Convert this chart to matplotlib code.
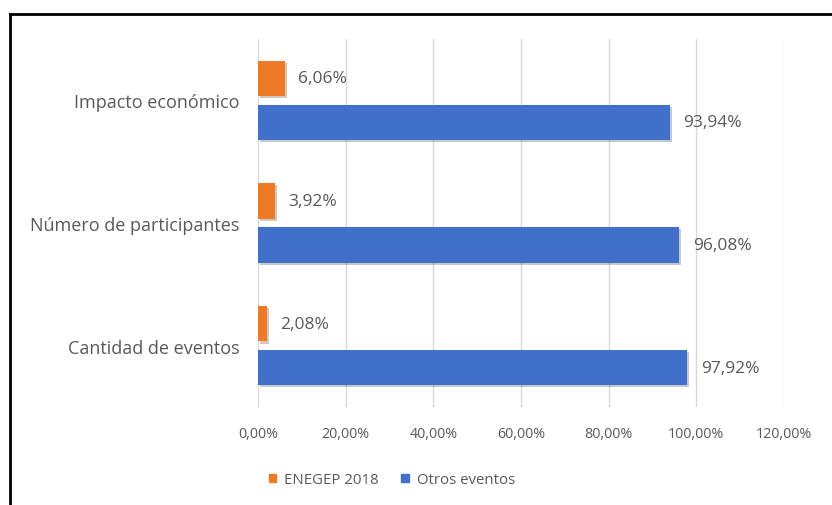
import matplotlib.pyplot as plt
import matplotlib.patheffects as pe
from matplotlib.lines import Line2D
from matplotlib.patches import Patch

# data, bottom to top
categories = ["Cantidad de eventos", "Número de participantes", "Impacto económico"]
enegep = [2.08, 3.92, 6.06]
otros = [97.92, 96.08, 93.94]
xticks = [0, 20, 40, 60, 80, 100, 120]

orange = "#EE7A26"
blue = "#4170CB"
gray = "#595959"

plt.rcParams['font.family'] = ['Open Sans', 'DejaVu Sans']

W, H = 832, 506
fig = plt.figure(figsize=(W / 100, H / 100), dpi=100)
ax = fig.add_axes([258 / W, 1 - 408 / H, (784 - 258) / W, (408 - 40) / H])

h = 0.29
off = 0.179
pos = list(range(len(categories)))
shadow = [pe.SimplePatchShadow(offset=(1.5, -1.5), alpha=0.25), pe.Normal()]

b1 = ax.barh([p + off for p in pos], enegep, height=h, color=orange, zorder=3)
b2 = ax.barh([p - off for p in pos], otros, height=h, color=blue, zorder=3)
for b in list(b1) + list(b2):
    b.set_path_effects(shadow)

def fmt(v):
    return ("%.2f%%" % v).replace(".", ",")

for p, v in zip(pos, enegep):
    ax.text(v + 3.0, p + off, fmt(v), va="center", ha="left", color=gray, fontsize=12.5)
for p, v in zip(pos, otros):
    ax.text(v + 3.1, p - off, fmt(v), va="center", ha="left", color=gray, fontsize=12.5)

ax.set_xlim(0, 120)
ax.set_ylim(-0.5, 2.5)
ax.set_xticks(xticks)
ax.set_xticklabels([fmt(t) for t in xticks], color=gray, fontsize=10.3)
ax.set_yticks(pos)
ax.set_yticklabels(categories, color=gray, fontsize=13)
ax.tick_params(axis="both", length=0)
ax.tick_params(axis="y", pad=13.5)
ax.tick_params(axis="x", pad=14)
ax.grid(axis="x", color="#D9D9D9", linewidth=1, zorder=0)
for s in ax.spines.values():
    s.set_visible(False)

handles = [Patch(color=orange), Patch(color=blue)]
fig.legend(handles, ["ENEGEP 2018", "Otros eventos"], loc="center",
           bbox_to_anchor=(392 / W, 1 - 481 / H), ncol=2, frameon=False,
           fontsize=10.8, handlelength=0.5, handleheight=0.5, handletextpad=0.55,
           columnspacing=1.5, labelcolor=gray)

# outer frame (only top and left visible)
fig.add_artist(Line2D([10 / W, 10 / W], [0, 1 - 15 / H], color="black", linewidth=2))
fig.add_artist(Line2D([10 / W, 1], [1 - 15 / H, 1 - 15 / H], color="black", linewidth=2))

fig.savefig("out.png", dpi=100)
